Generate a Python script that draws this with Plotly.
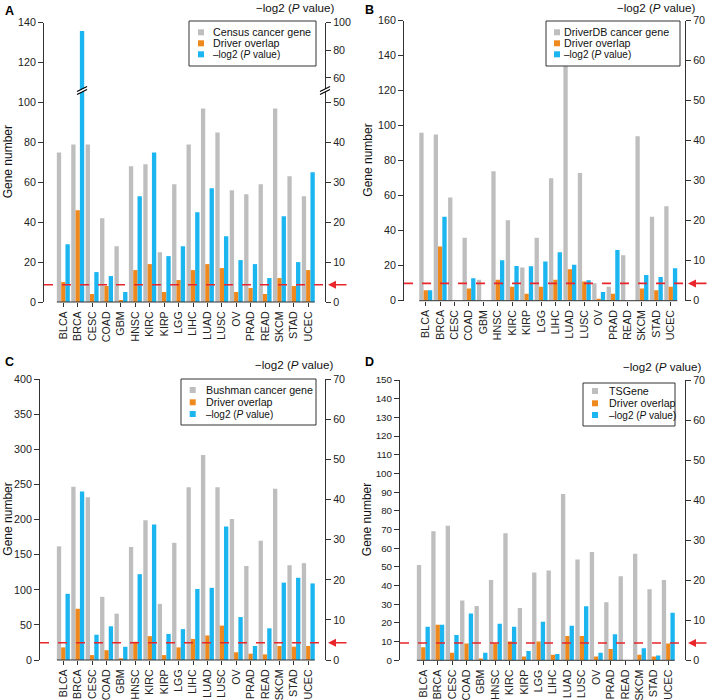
import plotly.graph_objects as go

W, H = 709, 700
FONT = "Liberation Sans, Arial, sans-serif"

cancers = ["BLCA", "BRCA", "CESC", "COAD", "GBM", "HNSC", "KIRC", "KIRP", "LGG",
           "LIHC", "LUAD", "LUSC", "OV", "PRAD", "READ", "SKCM", "STAD", "UCEC"]

# Panel A - Census
census_gene = [75, 79, 79, 42, 28, 68, 69, 25, 59, 79, 97, 85, 56, 54, 59, 97, 63, 53]
census_overlap = [10, 46, 4, 8, 1, 16, 19, 5, 11, 16, 19, 17, 5, 7, 4, 12, 8, 16]
census_logp = [14.5, 94, 7.5, 6.5, 2.5, 26.5, 37.5, 11.5, 14, 22.5, 28.5, 16.5, 10.5, 9.5, 6, 21.5, 10, 32.5]

# Panel B - DriverDB
driverdb_gene = [96, 95, 59, 36, 12, 74, 46, 19, 36, 70, 156, 73, 10, 8, 26, 94, 48, 54]
driverdb_overlap = [6, 31, 0, 7, 0, 12, 8, 4, 8, 12, 18, 11, 1, 4, 0, 7, 6, 8]
driverdb_logp = [2.6, 21, 0, 5.6, 0, 10.1, 8.7, 8.6, 9.8, 12.1, 9, 5.1, 2.2, 12.7, 0, 6.4, 5.9, 8.1]

# Panel C - Bushman
bushman_gene = [162, 247, 232, 90, 66, 161, 199, 80, 167, 246, 292, 246, 201, 134, 170, 244, 135, 138]
bushman_overlap = [18, 73, 7, 14, 2, 26, 34, 7, 18, 30, 35, 49, 11, 9, 8, 20, 19, 20]
bushman_logp = [16.5, 42, 6.3, 8.4, 3.3, 21.4, 33.8, 6.5, 7.7, 17.7, 18, 33.3, 10.7, 3.5, 7.9, 19.3, 20.5, 19.1]

# Panel D - TSGene
tsgene_gene = [51, 69, 72, 32, 29, 43, 68, 28, 47, 48, 89, 54, 58, 31, 45, 57, 38, 43]
tsgene_overlap = [7, 19, 4, 9, 1, 9, 10, 2, 10, 3, 13, 13, 2, 6, 0, 3, 2, 9]
tsgene_logp = [8.4, 8.9, 6.3, 11.7, 1.9, 9.1, 8.4, 2.3, 9.6, 1.6, 8.6, 13.5, 1.9, 6.5, 0, 3, 1.2, 11.9]

P_CUTOFF_LOG = 4.32  # -log2(0.05)

GRAY = "#BEBEBE"
ORANGE = "#F0891D"
BLUE = "#1BB5F0"
RED = "#E8262B"
AX = "#333333"


def broken_scale(v):
    """Axis-break transform of panel A's right axis (linear to 50, compressed above)."""
    if v <= 50:
        return v
    if v <= 60:
        return 50 + (v - 50) * 0.62
    return 56.2 + (v - 60) * 0.345


def px(x):
    return x / W


def py(y):
    return 1 - y / H


panels = [
    dict(letter="A", gene=census_gene, overlap=census_overlap, logp=census_logp,
         name="Census cancer gene", xdom=(44, 325), ydom=(302, 22.7), xr=(-1.34, 18.16),
         yl=(0, 140), dl=20, broken=True, lfs=10.7,
         legbox=(189, 21, 316, 66), legmx=201, legtx=211, legy=(32.3, 43.3, 54.3),
         title_xy=(294.7, 7), label_xy=(9, 11), gene_x=8),
    dict(letter="B", gene=driverdb_gene, overlap=driverdb_overlap, logp=driverdb_logp,
         name="DriverDB cancer gene", xdom=(404, 685), ydom=(300.7, 20.7), xr=(-1.51, 17.99),
         yl=(0, 160), dl=20, broken=False, lfs=10.7,
         legbox=(546, 21, 680, 66), legmx=557, legtx=562, legy=(32.3, 43.3, 54.3),
         title_xy=(655.8, 7), label_xy=(369, 10), gene_x=368),
    dict(letter="C", gene=bushman_gene, overlap=bushman_overlap, logp=bushman_logp,
         name="Bushman cancer gene", xdom=(40, 325), ydom=(660, 379.3), xr=(-1.62, 18.16),
         yl=(0, 400), dl=50, broken=False, lfs=10.7,
         legbox=(181, 379, 316, 425), legmx=192.7, legtx=204, legy=(390, 402.3, 414),
         title_xy=(294, 364.5), label_xy=(9, 362), gene_x=8),
    dict(letter="D", gene=tsgene_gene, overlap=tsgene_overlap, logp=tsgene_logp,
         name="TSGene", xdom=(400, 685), ydom=(660.3, 380), xr=(-1.62, 18.16),
         yl=(0, 150), dl=10, broken=False, lfs=9.8,
         legbox=(583, 383, 675, 426), legmx=595, legtx=606.5, legy=(391, 403.3, 415),
         title_xy=(662, 366), label_xy=(369, 362), gene_x=367),
]

fig = go.Figure()
layout = dict(width=W, height=H, margin=dict(l=0, r=0, t=0, b=0), autosize=False,
              plot_bgcolor="white", paper_bgcolor="white", barmode="overlay",
              showlegend=False, font=dict(family=FONT, size=10.7, color="#222"))

BAR_W = 0.3
tickfont = dict(family=FONT, size=10.7, color="#222")
shapes = []
annotations = []

for i, p in enumerate(panels):
    xa = f"x{i + 1}"
    yl = f"y{2 * i + 1}"
    yr = f"y{2 * i + 2}"
    xdom = [px(p["xdom"][0]), px(p["xdom"][1])]
    ydom = [py(p["ydom"][0]), py(p["ydom"][1])]

    logp_plot = [broken_scale(v) for v in p["logp"]] if p["broken"] else p["logp"]

    fig.add_trace(go.Bar(x=cancers, y=p["gene"], width=BAR_W, offset=-1.5 * BAR_W,
                         marker=dict(color=GRAY, line=dict(width=0)), name=p["name"],
                         xaxis=xa, yaxis=yl))
    fig.add_trace(go.Bar(x=cancers, y=p["overlap"], width=BAR_W, offset=-0.5 * BAR_W,
                         marker=dict(color=ORANGE, line=dict(width=0)), name="Driver overlap",
                         xaxis=xa, yaxis=yl))
    fig.add_trace(go.Bar(x=cancers, y=logp_plot, width=BAR_W, offset=0.5 * BAR_W,
                         marker=dict(color=BLUE, line=dict(width=0)), name="-log2 (P value)",
                         customdata=p["logp"], hovertemplate="%{x}: %{customdata}<extra></extra>",
                         xaxis=xa, yaxis=yr))

    xkey = "xaxis" if i == 0 else f"xaxis{i + 1}"
    ylkey = f"yaxis{2 * i + 1}" if i > 0 else "yaxis"
    yrkey = f"yaxis{2 * i + 2}"

    layout[xkey] = dict(domain=xdom, anchor=yl, type="category", categoryorder="array",
                        categoryarray=cancers, range=list(p["xr"]), showline=False,
                        showgrid=False, zeroline=False, ticks="outside", ticklen=4,
                        tickwidth=1, tickcolor=AX, tickangle=-90, tickfont=tickfont,
                        automargin=False)
    layout[ylkey] = dict(domain=ydom, anchor=xa, range=list(p["yl"]), dtick=p["dl"],
                         tick0=0, showline=True, linecolor=AX, linewidth=1, showgrid=False,
                         zeroline=False, ticks="outside", ticklen=5, tickwidth=1,
                         tickcolor=AX, tickfont=dict(tickfont, size=p["lfs"]),
                         automargin=False)
    if p["broken"]:
        rvals = [0, 10, 20, 30, 40, 50, 60, 80, 100]
        right = dict(tickmode="array", tickvals=[broken_scale(v) for v in rvals],
                     ticktext=[str(v) for v in rvals], range=[0, 70])
    else:
        right = dict(range=[0, 70], dtick=10, tick0=0)
    layout[yrkey] = dict(domain=ydom, anchor=xa, overlaying=yl, side="right",
                         showline=True, linecolor=AX, linewidth=1, showgrid=False,
                         zeroline=False, ticks="outside", ticklen=5, tickwidth=1,
                         tickcolor=AX, tickfont=tickfont, automargin=False, **right)

    # R-style x axis line spanning the bars
    shapes.append(dict(type="line", xref=xa, yref="paper", x0=-1.5 * BAR_W,
                       x1=len(cancers) - 1 + 1.5 * BAR_W,
                       y0=ydom[0], y1=ydom[0], line=dict(color=AX, width=1)))
    # significance cutoff
    shapes.append(dict(type="line", xref="paper", yref=yr, x0=xdom[0], x1=xdom[1],
                       y0=P_CUTOFF_LOG, y1=P_CUTOFF_LOG, layer="above",
                       line=dict(color=RED, width=1.6, dash="dash")))
    annotations.append(dict(x=xdom[1] + px(3), y=P_CUTOFF_LOG, xref="paper", yref=yr,
                            text="", showarrow=True, ax=20, ay=0, arrowhead=2,
                            arrowsize=1, arrowwidth=1.6, arrowcolor=RED))

    # axis titles and panel letters
    annotations.append(dict(x=px(p["title_xy"][0]), y=py(p["title_xy"][1]), xref="paper",
                            yref="paper", text="\u2212log2 (<i>P</i> value)", showarrow=False,
                            xanchor="center", yanchor="middle",
                            font=dict(family=FONT, size=11.6, color="#111")))
    annotations.append(dict(x=px(p["gene_x"]), y=(ydom[0] + ydom[1]) / 2, xref="paper",
                            yref="paper", text="Gene number", showarrow=False, textangle=-90,
                            xanchor="center", yanchor="middle",
                            font=dict(family=FONT, size=12, color="#111")))
    annotations.append(dict(x=px(p["label_xy"][0]), y=py(p["label_xy"][1]), xref="paper",
                            yref="paper", text=f"<b>{p['letter']}</b>", showarrow=False,
                            xanchor="center", yanchor="middle",
                            font=dict(family=FONT, size=12.5, color="#000")))

    # legend box
    bx0, by0, bx1, by1 = p["legbox"]
    shapes.append(dict(type="rect", xref="paper", yref="paper", x0=px(bx0), x1=px(bx1),
                       y0=py(by1), y1=py(by0), line=dict(color=AX, width=1),
                       fillcolor="white", layer="above"))
    for lab, col, ry, fs in zip([p["name"], "Driver overlap", "\u2013log2 (<i>P</i> value)"],
                                [GRAY, ORANGE, BLUE], p["legy"], [10.7, 10.7, 10.0]):
        shapes.append(dict(type="rect", xref="paper", yref="paper",
                           x0=px(p["legmx"] - 3), x1=px(p["legmx"] + 3),
                           y0=py(ry + 3), y1=py(ry - 3), line=dict(width=0),
                           fillcolor=col, layer="above"))
        annotations.append(dict(x=px(p["legtx"]), y=py(ry), xref="paper", yref="paper",
                                text=lab, showarrow=False, xanchor="left", yanchor="middle",
                                font=dict(family=FONT, size=fs, color="#111")))

# axis-break marks in panel A (on the BRCA bar and on the right axis)
def break_mark(xref, xanchor, yref, yanchor):
    out = [dict(type="path", xref=xref, yref=yref, xsizemode="pixel", ysizemode="pixel",
                xanchor=xanchor, yanchor=yanchor, path="M -5,-4 L 5,1 L 5,4 L -5,-1 Z",
                fillcolor="white", line=dict(width=0), layer="above")]
    for d in (0, 3):
        out.append(dict(type="line", xref=xref, yref=yref, xsizemode="pixel",
                        ysizemode="pixel", xanchor=xanchor, yanchor=yanchor,
                        x0=-5, x1=5, y0=-4 + d, y1=1 + d, layer="above",
                        line=dict(color="#000", width=1.2)))
    return out


BREAK_AT = 53
shapes += break_mark("x", 1 + BAR_W, "y2", BREAK_AT)
shapes += break_mark("paper", px(325), "y2", BREAK_AT)

layout["shapes"] = shapes
layout["annotations"] = annotations
fig.update_layout(**layout)
fig.write_html("out.html", config={"displayModeBar": False},
               post_script="document.body.style.margin='0';document.body.style.overflow='hidden';")
